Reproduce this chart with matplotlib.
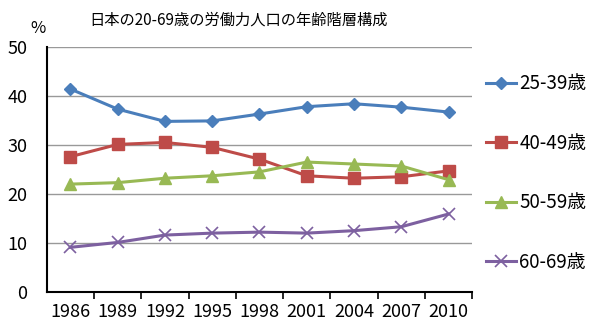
import matplotlib.pyplot as plt

plt.rcParams['font.family'] = ['Noto Sans CJK JP', 'DejaVu Sans']

years = ['1986', '1989', '1992', '1995', '1998', '2001', '2004', '2007', '2010']
age_25_39 = [41.4, 37.3, 34.8, 34.9, 36.3, 37.8, 38.4, 37.7, 36.7]
age_40_49 = [27.6, 30.1, 30.5, 29.5, 27.1, 23.7, 23.2, 23.5, 24.7]
age_50_59 = [22.0, 22.3, 23.2, 23.7, 24.5, 26.5, 26.1, 25.7, 22.9]
age_60_69 = [9.1, 10.1, 11.6, 12.0, 12.2, 12.0, 12.5, 13.3, 15.9]
labels = ['25-39歳', '40-49歳', '50-59歳', '60-69歳']

fig = plt.figure(figsize=(6, 3.28), dpi=100)
ax = fig.add_axes([0.078, 0.11, 0.709, 0.747])

x = range(len(years))
ax.plot(x, age_25_39, color='#4A7EBB', lw=2.2, marker='D', ms=6.5, label=labels[0])
ax.plot(x, age_40_49, color='#BE4B48', lw=2.2, marker='s', ms=8, label=labels[1])
ax.plot(x, age_50_59, color='#98B954', lw=2.2, marker='^', ms=8, label=labels[2])
ax.plot(x, age_60_69, color='#7D60A0', lw=2.2, marker='x', ms=8, mew=1.2, label=labels[3])

ax.set_xlim(-0.5, len(years) - 0.5)
ax.set_ylim(0, 50)
ax.set_yticks([0, 10, 20, 30, 40, 50])
ax.set_xticks(list(x))
ax.set_xticklabels(years)
ax.set_xticks([i + 0.5 for i in range(len(years))], minor=True)
ax.tick_params(axis='x', which='major', length=0, labelsize=13, pad=8)
ax.tick_params(axis='x', which='minor', length=5, width=1.2, direction='out')
ax.tick_params(axis='y', length=0, labelsize=13, pad=14)

ax.yaxis.grid(True, color='#999999', lw=1)
ax.set_axisbelow(True)
for s in ['top', 'right']:
    ax.spines[s].set_visible(False)
for s in ['left', 'bottom']:
    ax.spines[s].set_linewidth(1.5)
    ax.spines[s].set_color('black')

fig.text(0.05, 0.9, '%', fontsize=12)
fig.text(0.398, 0.925, '日本の20-69歳の労働力人口の年齢階層構成', fontsize=11, ha='center')

fig.legend(loc='upper left', bbox_to_anchor=(0.795, 0.805), frameon=False,
           fontsize=13.5, handlelength=1.6, handletextpad=0.15, labelspacing=2.05,
           borderpad=0)

plt.savefig('out.png', dpi=100)
